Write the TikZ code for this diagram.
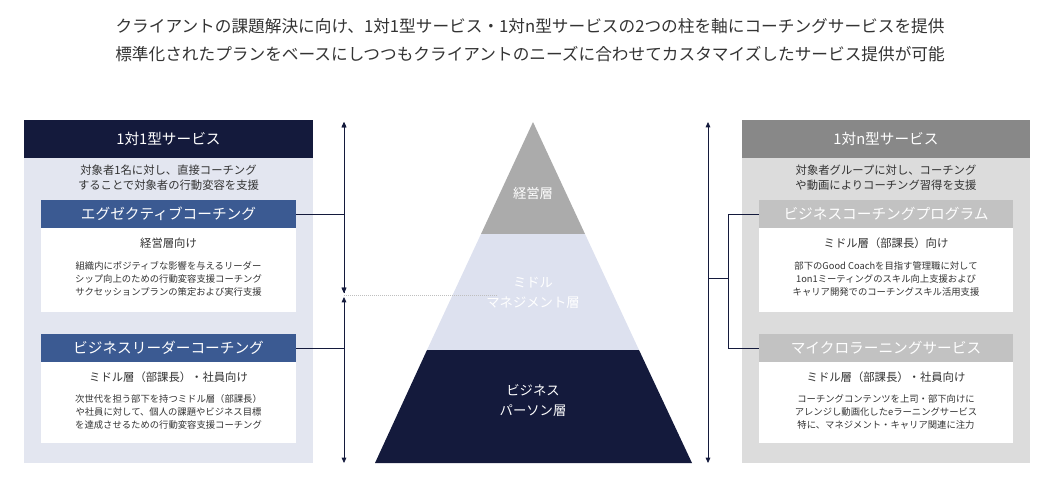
\documentclass[tikz,border=0pt]{standalone}
\usepackage{fontspec}
\setmainfont{Noto Sans CJK JP}
\usetikzlibrary{arrows.meta}
\definecolor{navy}{HTML}{141A3C}
\definecolor{lbg}{HTML}{E3E6F0}
\definecolor{rbg}{HTML}{DCDCDC}
\definecolor{lsub}{HTML}{3B5A92}
\definecolor{rhead}{HTML}{888888}
\definecolor{rsub}{HTML}{C2C2C2}
\definecolor{tgray}{HTML}{333333}
\definecolor{ptop}{HTML}{ABABAB}
\definecolor{pmid}{HTML}{DDE1EF}
\tikzset{x=0.75pt,y=-0.75pt,
 txt/.style={text=tgray,align=center,inner sep=0},
 hd/.style={text=white,font=\fontsize{11}{13}\selectfont,inner sep=0},
 sm/.style={txt,font=\fontsize{7}{9.5}\selectfont},
 md/.style={txt,font=\fontsize{8.5}{11}\selectfont},
 ln/.style={navy,line width=0.6pt},
 arr/.style={ln,-{Triangle[length=4pt,width=3.5pt]}}}
\begin{document}
\begin{tikzpicture}
\useasboundingbox (0,0) rectangle (1062,499);
\node[txt,font=\fontsize{12.5}{21}\selectfont] (title) at (530,40) {クライアントの課題解決に向け、1対1型サービス・1対n型サービスの2つの柱を軸にコーチングサービスを提供\\標準化されたプランをベースにしつつもクライアントのニーズに合わせてカスタマイズしたサービス提供が可能};
% left panel
\fill[lbg] (24,120) rectangle (313,463);
\fill[navy] (24,120) rectangle (313,158);
\node[hd] (lh) at (168.5,139) {1対1型サービス};
\node[md] (ld) at (168.5,178) {対象者1名に対し、直接コーチング\\することで対象者の行動変容を支援};
\fill[lsub] (41,200) rectangle (296,228);
\fill[white] (41,228) rectangle (296,312);
\node[hd] (l1) at (168.5,214) {エグゼクティブコーチング};
\node[md] at (168.5,243) {経営層向け};
\node[sm] at (168.5,279) {組織内にポジティブな影響を与えるリーダー\\シップ向上のための行動変容支援コーチング\\サクセッションプランの策定および実行支援};
\fill[lsub] (41,334) rectangle (296,362);
\fill[white] (41,362) rectangle (296,443);
\node[hd] (l2) at (168.5,348) {ビジネスリーダーコーチング};
\node[md] at (168.5,377) {ミドル層（部課長）・社員向け};
\node[sm] at (168.5,412) {次世代を担う部下を持つミドル層（部課長）\\や社員に対して、個人の課題やビジネス目標\\を達成させるための行動変容支援コーチング};
% right panel
\fill[rbg] (742,120) rectangle (1030,463);
\fill[rhead] (742,120) rectangle (1030,158);
\node[hd] (rh) at (886,139) {1対n型サービス};
\node[md] (rd) at (886,178) {対象者グループに対し、コーチング\\や動画によりコーチング習得を支援};
\fill[rsub] (759,200) rectangle (1013,228);
\fill[white] (759,228) rectangle (1013,312);
\node[hd] (r1) at (886,214) {ビジネスコーチングプログラム};
\node[md] at (886,243) {ミドル層（部課長）向け};
\node[sm] at (886,279) {部下のGood Coachを目指す管理職に対して\\1on1ミーティングのスキル向上支援および\\キャリア開発でのコーチングスキル活用支援};
\fill[rsub] (759,334) rectangle (1013,362);
\fill[white] (759,362) rectangle (1013,443);
\node[hd] (r2) at (886,348) {マイクロラーニングサービス};
\node[md] at (886,377) {ミドル層（部課長）・社員向け};
\node[sm] at (886,412) {コーチングコンテンツを上司・部下向けに\\アレンジし動画化したeラーニングサービス\\特に、マネジメント・キャリア関連に注力};
% pyramid
\fill[ptop] (533,122) -- (585,234) -- (481,234) -- cycle;
\fill[pmid] (481,234) -- (585,234) -- (639,350) -- (427,350) -- cycle;
\fill[navy] (427,350) -- (639,350) -- (692,463) -- (375,463) -- cycle;
\node[hd,font=\fontsize{10}{16}\selectfont] (p1) at (533,193) {経営層};
\node[hd,align=center,font=\fontsize{10}{15}\selectfont] (p2) at (533,293) {ミドル\\マネジメント層};
\node[hd,align=center,font=\fontsize{10}{15}\selectfont] (p3) at (533,401) {ビジネス\\パーソン層};
% left axis
\coordinate (la) at (344,122); \coordinate (lm1) at (344,293); \coordinate (lm2) at (344,297); \coordinate (lb) at (344,463);
\draw[arr] (lm1) -- (la);
\draw[arr] (lm1) -- ++(0,-1) -- (lm1);
\draw[ln,{Triangle[length=4pt,width=3.5pt]}-{Triangle[length=4pt,width=3.5pt]}] (344,122) -- (344,293);
\draw[ln,{Triangle[length=4pt,width=3.5pt]}-{Triangle[length=4pt,width=3.5pt]}] (lm2) -- (lb);
\draw[gray!50,densely dotted,line width=0.5pt] (lm1) ++(0,2) -- (498,295);
\draw[ln] (l1.east -| 296,214) -- (344,214);
\draw[ln] (296,348) -- (344,348);
% right axis
\draw[ln,{Triangle[length=4pt,width=3.5pt]}-{Triangle[length=4pt,width=3.5pt]}] (708,122) -- (708,463);
\draw[ln] (708,278) -- (728,278);
\draw[ln] (759,214) -- (728,214) -- (728,348) -- (759,348);
\end{tikzpicture}
\end{document}
